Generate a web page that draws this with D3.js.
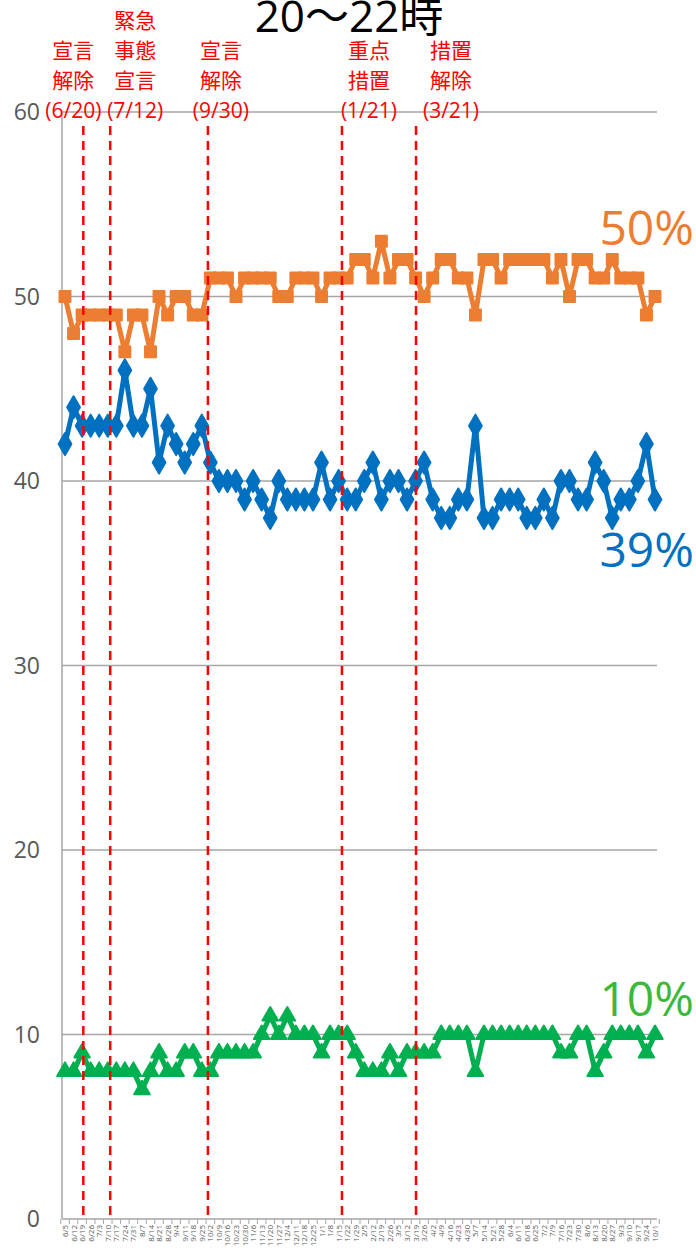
<!DOCTYPE html>
<html>
<head>
<meta charset="utf-8">
<script src="https://cdn.jsdelivr.net/npm/d3@7"></script>
<style>
  body { margin: 0; background: #fff; }
  text { font-family: "Open Sans", "Noto Sans CJK JP", sans-serif; }
</style>
</head>
<body>
<div id="chart"></div>
<script>
// weekly survey dates, 2021/6/5 - 2022/10/1
var dateLabels = ["6/5","6/12","6/19","6/26","7/3","7/10","7/17","7/24","7/31","8/7",
  "8/14","8/21","8/28","9/4","9/11","9/18","9/25","10/2","10/9","10/16",
  "10/23","10/30","11/6","11/13","11/20","11/27","12/4","12/11","12/18","12/25",
  "1/1","1/8","1/15","1/22","1/29","2/5","2/12","2/19","2/26","3/5",
  "3/12","3/19","3/26","4/2","4/9","4/16","4/23","4/30","5/7","5/14",
  "5/21","5/28","6/4","6/11","6/18","6/25","7/2","7/9","7/16","7/23",
  "7/30","8/6","8/13","8/20","8/27","9/3","9/10","9/17","9/24","10/1"];

var orangeValues = [50,48,49,49,49,49,49,47,49,49,
  47,50,49,50,50,49,49,51,51,51,
  50,51,51,51,51,50,50,51,51,51,
  50,51,51,51,52,52,51,53,51,52,
  52,51,50,51,52,52,51,51,49,52,
  52,51,52,52,52,52,52,51,52,50,
  52,52,51,51,52,51,51,51,49,50];

var blueValues = [42,44,43,43,43,43,43,46,43,43,
  45,41,43,42,41,42,43,41,40,40,
  40,39,40,39,38,40,39,39,39,39,
  41,39,40,39,39,40,41,39,40,40,
  39,40,41,39,38,38,39,39,43,38,
  38,39,39,39,38,38,39,38,40,40,
  39,39,41,40,38,39,39,40,42,39];

var greenValues = [8,8,9,8,8,8,8,8,8,7,
  8,9,8,8,9,9,8,8,9,9,
  9,9,9,10,11,10,11,10,10,10,
  9,10,10,10,9,8,8,8,9,8,
  9,9,9,9,10,10,10,10,8,10,
  10,10,10,10,10,10,10,10,9,9,
  10,10,8,9,10,10,10,10,9,10];

var yTicks = [0, 10, 20, 30, 40, 50, 60];

var eventDates = ["2021-06-20", "2021-07-12", "2021-09-30", "2022-01-21", "2022-03-21"];
var eventTexts = [
  ["宣言", "解除", "(6/20)"],
  ["緊急", "事態", "宣言", "(7/12)"],
  ["宣言", "解除", "(9/30)"],
  ["重点", "措置", "(1/21)"],
  ["措置", "解除", "(3/21)"]
];
// hand placed in the original
var eventLineDx = [0, 0, 0, -4, -2];
var eventTextDx = [-10, 25, 13, 27, 35];

var width = 696,
  height = 1254;

var svg = d3.select("#chart").append("svg")
  .attr("width", width)
  .attr("height", height);

var startDate = new Date(2021, 5, 5),
  endDate = new Date(2022, 9, 1);

var x = d3.scaleTime()
  .domain([startDate, endDate])
  .range([65, 655]);

var y = d3.scaleLinear()
  .domain([0, 60])
  .range([1219, 112]);

var pointDates = dateLabels.map(function(d, i) { return d3.timeWeek.offset(startDate, i); });

// grid
svg.append("g")
  .selectAll("line")
  .data(yTicks)
  .enter().append("line")
  .attr("x1", 62).attr("x2", 657)
  .attr("y1", function(d) { return y(d); })
  .attr("y2", function(d) { return y(d); })
  .attr("stroke", "#a6a6a6")
  .attr("stroke-width", 1.5);

svg.append("line")
  .attr("x1", 62).attr("x2", 62)
  .attr("y1", y(60)).attr("y2", y(0))
  .attr("stroke", "#a6a6a6")
  .attr("stroke-width", 1.5);

svg.append("g")
  .selectAll("text")
  .data(yTicks)
  .enter().append("text")
  .attr("x", 40)
  .attr("y", function(d) { return y(d) + 8; })
  .attr("text-anchor", "end")
  .attr("font-size", 23)
  .attr("fill", "#595959")
  .text(function(d) { return d; });

// x axis ticks and labels
var half = (x(pointDates[1]) - x(pointDates[0])) / 2;
svg.append("g")
  .selectAll("line")
  .data(pointDates.concat([d3.timeWeek.offset(endDate, 1)]))
  .enter().append("line")
  .attr("x1", function(d) { return x(d) - half; })
  .attr("x2", function(d) { return x(d) - half; })
  .attr("y1", y(0)).attr("y2", y(0) + 5)
  .attr("stroke", "#a6a6a6");

svg.append("g")
  .selectAll("text")
  .data(dateLabels)
  .enter().append("text")
  .attr("transform", function(d, i) {
    return "translate(" + (x(pointDates[i]) + 3) + "," + (y(0) + 6) + ")rotate(-90)";
  })
  .attr("text-anchor", "end")
  .attr("font-size", 8)
  .attr("fill", "#595959")
  .text(function(d) { return d; });

// series
var series = [
  { values: orangeValues, color: "#ed7d31", symbol: d3.symbolSquare, size: 120 },
  { values: blueValues, color: "#0070c0", symbol: d3.symbolDiamond, size: 140 },
  { values: greenValues, color: "#00b050", symbol: d3.symbolTriangle, size: 105 }
];

var line = d3.line()
  .x(function(d, i) { return x(pointDates[i]); })
  .y(function(d) { return y(d); });

series.forEach(function(s) {
  svg.append("path")
    .datum(s.values)
    .attr("d", line)
    .attr("fill", "none")
    .attr("stroke", s.color)
    .attr("stroke-width", 5)
    .attr("stroke-linejoin", "round");

  svg.append("g")
    .selectAll("path")
    .data(s.values)
    .enter().append("path")
    .attr("d", d3.symbol().type(s.symbol).size(s.size))
    .attr("transform", function(d, i) {
      return "translate(" + x(pointDates[i]) + "," + y(d) + ")";
    })
    .attr("fill", s.color)
    .attr("stroke", s.color)
    .attr("stroke-width", 2)
    .attr("stroke-linejoin", "round");
});

// event lines
var parse = d3.timeParse("%Y-%m-%d");
function eventX(k) { return x(parse(eventDates[k])) + eventLineDx[k]; }

svg.append("g")
  .selectAll("line")
  .data(eventDates)
  .enter().append("line")
  .attr("x1", function(d, k) { return eventX(k); })
  .attr("x2", function(d, k) { return eventX(k); })
  .attr("y1", 126).attr("y2", y(0))
  .attr("stroke", "#ff0000")
  .attr("stroke-width", 2.5)
  .attr("stroke-dasharray", "9,6");

eventTexts.forEach(function(lines, k) {
  var cx = eventX(k) + eventTextDx[k];
  svg.append("g")
    .selectAll("text")
    .data(lines)
    .enter().append("text")
    .attr("x", cx)
    .attr("y", function(d, i) { return 118 - (lines.length - 1 - i) * 30; })
    .attr("text-anchor", "middle")
    .attr("font-family", "'Noto Sans CJK JP', sans-serif")
    .attr("font-size", 21)
    .attr("fill", "#ff0000")
    .text(function(d) { return d; });
});

// end labels
var endLabels = [
  { text: "50%", color: "#ed7d31", y: 245 },
  { text: "39%", color: "#0070c0", y: 567 },
  { text: "10%", color: "#3cb83c", y: 1016 }
];
svg.append("g")
  .selectAll("text")
  .data(endLabels)
  .enter().append("text")
  .attr("x", 694)
  .attr("y", function(d) { return d.y; })
  .attr("text-anchor", "end")
  .attr("font-size", 48)
  .attr("fill", function(d) { return d.color; })
  .text(function(d) { return d.text; });

// title
svg.append("text")
  .attr("x", 349)
  .attr("y", 32)
  .attr("text-anchor", "middle")
  .attr("font-family", "'Noto Sans CJK JP', sans-serif")
  .attr("font-size", 44)
  .attr("fill", "#000")
  .text("20～22時");
</script>
</body>
</html>
